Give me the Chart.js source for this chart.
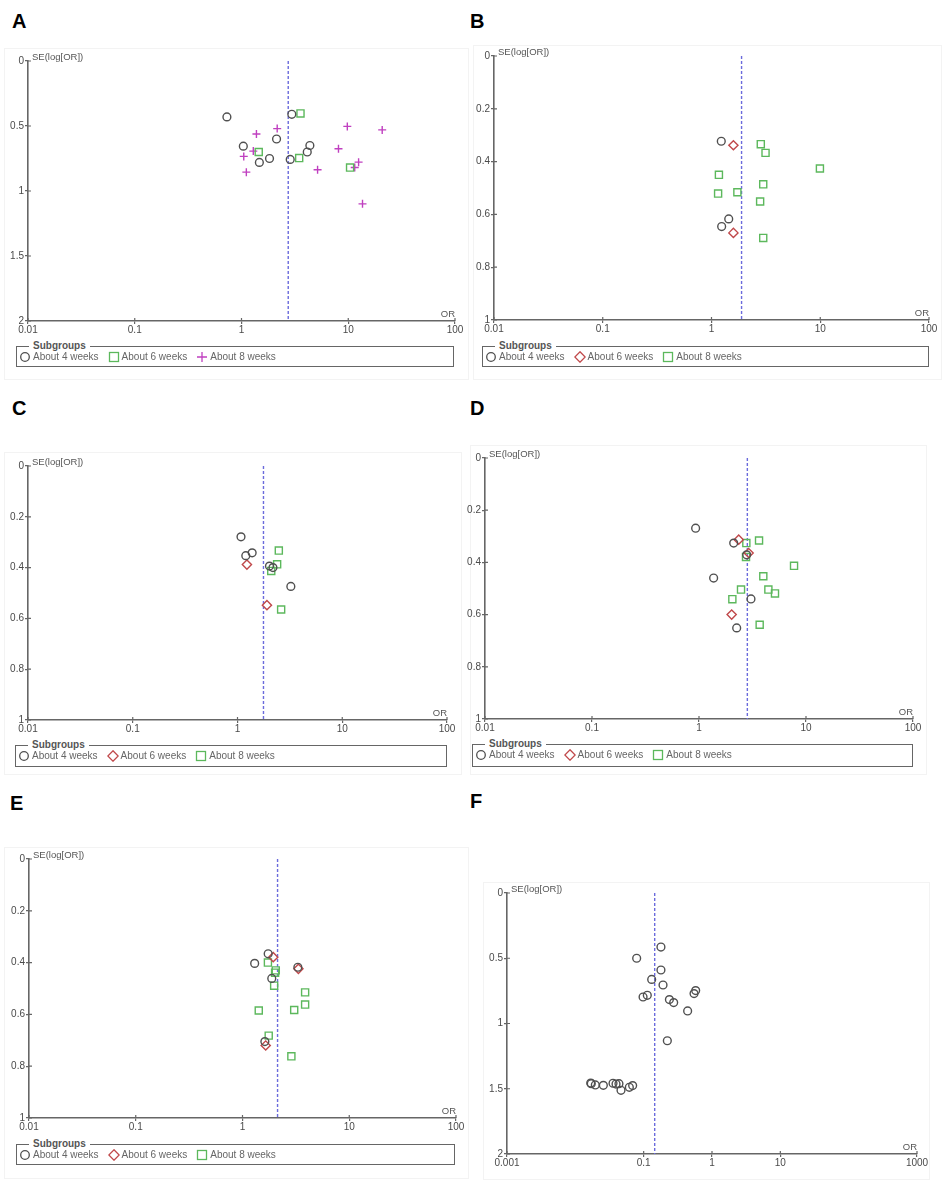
<!DOCTYPE html>
<html>
<head>
<meta charset="utf-8">
<script src="https://cdn.jsdelivr.net/npm/chart.js@4"></script>
<style>
  body { margin: 0; width: 945px; height: 1182px; position: relative; background: #fff; overflow: hidden;
         font-family: "Liberation Sans", Arial, sans-serif; }
  .tag { position: absolute; font: bold 20px "Liberation Sans", Arial, sans-serif; color: #000; }
  .box { position: absolute; border: 1px solid #f3f3f3; }
  .cv { position: absolute; }
  .lg { position: absolute; border: 1px solid #666; box-sizing: border-box; }
  .lg .ttl { position: absolute; top: -7px; left: 12px; background: #fff; padding: 0 4px;
             font: bold 10px "Liberation Sans", Arial, sans-serif; color: #555; line-height: 12px; }
  .lg .items { position: absolute; left: 2px; top: 4px; display: flex; gap: 9px;
               font: 10px "Liberation Sans", Arial, sans-serif; color: #666; line-height: 12px; }
  .lg .it { display: flex; align-items: center; gap: 2px; }
</style>
</head>
<body>
<script>
// tick labels
const xTicks = [0.01, 0.1, 1, 10, 100];
const xTicksF = [0.001, 0.1, 1, 10, 1000];
const yTicks2 = [0, 0.5, 1, 1.5, 2];
const yTicks1 = [0, 0.2, 0.4, 0.6, 0.8, 1];
const groups = ['About 4 weeks', 'About 6 weeks', 'About 8 weeks'];

// A
const A_or4 = [0.73, 2.96, 2.13, 1.04, 4.37, 4.13, 1.83, 1.47, 2.86];
const A_se4 = [0.43, 0.41, 0.60, 0.655, 0.65, 0.70, 0.75, 0.78, 0.757];
const A_or6 = [3.57, 1.45, 3.47, 10.4];
const A_se6 = [0.403, 0.70, 0.747, 0.82];
const A_or8 = [1.38, 2.16, 9.8, 20.8, 1.29, 1.05, 8.1, 1.11, 5.16, 12.5, 11.5, 13.6];
const A_se8 = [0.562, 0.52, 0.503, 0.53, 0.693, 0.734, 0.675, 0.855, 0.837, 0.778, 0.819, 1.099];
const A_pooled = 2.74;

// B
const B_or4 = [1.23, 1.44, 1.24];
const B_se4 = [0.323, 0.617, 0.646];
const B_or6 = [1.59, 1.59];
const B_se6 = [0.338, 0.67];
const B_or8 = [2.84, 3.14, 9.93, 1.17, 2.99, 1.15, 1.73, 2.80, 2.99];
const B_se8 = [0.334, 0.367, 0.426, 0.45, 0.486, 0.521, 0.516, 0.551, 0.689];
const B_pooled = 1.89;

// C
const C_or4 = [1.08, 1.38, 1.20, 2.02, 2.18, 3.23];
const C_se4 = [0.279, 0.342, 0.353, 0.394, 0.40, 0.474];
const C_or6 = [1.23, 1.91];
const C_se6 = [0.388, 0.548];
const C_or8 = [2.48, 2.39, 2.10, 2.61];
const C_se8 = [0.333, 0.387, 0.413, 0.565];
const C_pooled = 1.77;

// D
const D_or4 = [0.93, 2.11, 1.37, 3.06, 2.25, 2.79];
const D_se4 = [0.269, 0.326, 0.46, 0.54, 0.651, 0.371];
const D_or6 = [2.35, 2.91, 2.02];
const D_se6 = [0.313, 0.364, 0.60];
const D_or8 = [2.77, 3.64, 2.75, 7.73, 3.99, 2.47, 4.45, 5.13, 2.05, 3.69];
const D_se8 = [0.326, 0.316, 0.379, 0.413, 0.453, 0.504, 0.504, 0.519, 0.541, 0.639];
const D_pooled = 2.83;

// E
const E_or4 = [1.74, 1.30, 3.30, 1.88, 1.62];
const E_se4 = [0.366, 0.403, 0.418, 0.461, 0.705];
const E_or6 = [1.94, 3.34, 1.65];
const E_se6 = [0.379, 0.424, 0.72];
const E_or8 = [1.73, 2.05, 2.02, 1.98, 3.86, 3.86, 1.42, 3.05, 1.76, 2.87];
const E_se8 = [0.40, 0.43, 0.439, 0.489, 0.515, 0.562, 0.585, 0.583, 0.682, 0.762];
const E_pooled = 2.13;

// F (single group)
const F_or = [0.179, 0.079, 0.179, 0.131, 0.192, 0.098, 0.113, 0.577, 0.546, 0.238, 0.275, 0.44, 0.222,
              0.0168, 0.0171, 0.0196, 0.0257, 0.0356, 0.0394, 0.0435, 0.0466, 0.0617, 0.069];
const F_se = [0.414, 0.50, 0.59, 0.662, 0.705, 0.797, 0.784, 0.748, 0.771, 0.817, 0.84, 0.904, 1.132,
              1.456, 1.461, 1.471, 1.474, 1.458, 1.464, 1.461, 1.512, 1.489, 1.476];
const F_pooled = 0.145;

// marker styles
const sty = {
  circle:  { pointStyle: 'circle',  radius: 3.9, color: '#505050' },
  square:  { pointStyle: 'rect',    radius: 5,   color: '#5cb85c' },
  diamond: { pointStyle: 'rectRot', radius: 4.6, color: '#c0484a' },
  plus:    { pointStyle: 'cross',   radius: 4,   color: '#c040c0' }
};

const zip = (or, se) => or.map((v, i) => ({ x: v, y: se[i] }));

const panels = [
  { tag: 'A', tagPos: [12, 10], box: [4, 48, 467, 378], plot: [28, 61, 455, 321],
    xMin: 0.01, xMax: 100, xt: xTicks, yMax: 2, yt: yTicks2, pooled: A_pooled,
    series: [['circle', A_or4, A_se4], ['square', A_or6, A_se6], ['plus', A_or8, A_se8]],
    legend: [16, 346, 454, 367] },
  { tag: 'B', tagPos: [470, 10], box: [473, 45, 940, 378], plot: [494, 56, 929, 320],
    xMin: 0.01, xMax: 100, xt: xTicks, yMax: 1, yt: yTicks1, pooled: B_pooled,
    series: [['circle', B_or4, B_se4], ['diamond', B_or6, B_se6], ['square', B_or8, B_se8]],
    legend: [482, 346, 929, 367] },
  { tag: 'C', tagPos: [12, 397], box: [4, 452, 460, 773], plot: [28, 466, 447, 720],
    xMin: 0.01, xMax: 100, xt: xTicks, yMax: 1, yt: yTicks1, pooled: C_pooled,
    series: [['circle', C_or4, C_se4], ['diamond', C_or6, C_se6], ['square', C_or8, C_se8]],
    legend: [15, 745, 447, 767] },
  { tag: 'D', tagPos: [470, 397], box: [470, 445, 925, 773], plot: [485, 458, 913, 719],
    xMin: 0.01, xMax: 100, xt: xTicks, yMax: 1, yt: yTicks1, pooled: D_pooled,
    series: [['circle', D_or4, D_se4], ['diamond', D_or6, D_se6], ['square', D_or8, D_se8]],
    legend: [472, 744, 913, 767] },
  { tag: 'E', tagPos: [10, 792], box: [4, 847, 467, 1177], plot: [29, 859, 456, 1118],
    xMin: 0.01, xMax: 100, xt: xTicks, yMax: 1, yt: yTicks1, pooled: E_pooled,
    series: [['circle', E_or4, E_se4], ['diamond', E_or6, E_se6], ['square', E_or8, E_se8]],
    legend: [16, 1144, 455, 1165] },
  { tag: 'F', tagPos: [470, 790], box: [483, 882, 928, 1178], plot: [507, 893, 917, 1154],
    xMin: 0.001, xMax: 1000, xt: xTicksF, yMax: 2, yt: yTicks2, pooled: F_pooled,
    series: [['circle', F_or, F_se]],
    legend: null }
];

// axis captions and the inner half of the crossing tick marks
const axisText = {
  id: 'axisText',
  afterDraw(chart) {
    const { ctx, chartArea: a, scales } = chart;
    ctx.save();
    ctx.strokeStyle = '#666';
    ctx.lineWidth = 1.2;
    ctx.beginPath();
    scales.x.ticks.forEach(t => {
      const px = scales.x.getPixelForValue(t.value);
      ctx.moveTo(px, a.bottom); ctx.lineTo(px, a.bottom - 3);
    });
    scales.y.ticks.forEach(t => {
      const py = scales.y.getPixelForValue(t.value);
      ctx.moveTo(a.left, py); ctx.lineTo(a.left + 3, py);
    });
    ctx.stroke();
    ctx.fillStyle = '#555';
    ctx.font = '9.5px "Liberation Sans", Arial, sans-serif';
    ctx.textBaseline = 'bottom';
    ctx.textAlign = 'left';
    ctx.fillText('SE(log[OR])', a.left + 4, a.top + 1);
    ctx.textAlign = 'right';
    ctx.fillText('OR', a.right, a.bottom - 2);
    ctx.restore();
  }
};

const PL = 32, PT = 18, PR = 16, PB = 22;

function symSvg(kind) {
  const c = sty[kind].color;
  let s = '';
  if (kind === 'circle') s = `<circle cx="6" cy="6" r="4.3" fill="none" stroke="${c}" stroke-width="1.3"/>`;
  if (kind === 'square') s = `<rect x="1.5" y="1.5" width="9" height="9" fill="none" stroke="${c}" stroke-width="1.3"/>`;
  if (kind === 'diamond') s = `<path d="M6 0.8 L11.2 6 L6 11.2 L0.8 6 Z" fill="none" stroke="${c}" stroke-width="1.3"/>`;
  if (kind === 'plus') s = `<path d="M6 1 V11 M1 6 H11" stroke="${c}" stroke-width="1.3"/>`;
  return `<svg width="12" height="12">${s}</svg>`;
}

panels.forEach(p => {
  const tag = document.createElement('div');
  tag.className = 'tag';
  tag.style.left = p.tagPos[0] + 'px';
  tag.style.top = p.tagPos[1] + 'px';
  tag.textContent = p.tag;
  document.body.appendChild(tag);

  const box = document.createElement('div');
  box.className = 'box';
  Object.assign(box.style, { left: p.box[0] + 'px', top: p.box[1] + 'px',
    width: (p.box[2] - p.box[0]) + 'px', height: (p.box[3] - p.box[1]) + 'px' });
  document.body.appendChild(box);

  const [x0, y0, x1, y1] = p.plot;
  const cv = document.createElement('canvas');
  cv.className = 'cv';
  const w = x1 - x0 + PL + PR, h = y1 - y0 + PT + PB;
  cv.width = w; cv.height = h;
  cv.style.left = (x0 - PL) + 'px';
  cv.style.top = (y0 - PT) + 'px';
  cv.style.width = w + 'px'; cv.style.height = h + 'px';
  document.body.appendChild(cv);

  const datasets = p.series.map(([kind, or, se], i) => ({
    type: 'scatter',
    label: p.tag === 'F' ? 'Studies' : groups[i],
    data: zip(or, se),
    pointStyle: sty[kind].pointStyle,
    pointRadius: sty[kind].radius,
    pointBorderWidth: 1.4,
    borderColor: sty[kind].color,
    backgroundColor: 'rgba(0,0,0,0)',
    order: 1
  }));
  datasets.push({
    type: 'line',
    label: 'Pooled OR',
    data: [{ x: p.pooled, y: 0 }, { x: p.pooled, y: p.yMax }],
    borderColor: '#6b6bdc',
    borderWidth: 1.4,
    borderDash: [3, 2],
    pointRadius: 0,
    order: 2
  });

  const tickFont = { family: '"Liberation Sans", Arial, sans-serif', size: 10 };
  new Chart(cv.getContext('2d'), {
    type: 'scatter',
    data: { datasets },
    options: {
      responsive: false,
      animation: false,
      layout: { padding: { left: 0, top: PT, right: PR, bottom: 0 } },
      plugins: { legend: { display: false }, tooltip: { enabled: false } },
      scales: {
        x: {
          type: 'logarithmic',
          min: p.xMin, max: p.xMax,
          afterBuildTicks: s => { s.ticks = p.xt.map(v => ({ value: v })); },
          afterFit: s => { s.height = PB; },
          ticks: { color: '#4a4a4a', font: tickFont, padding: 0, maxRotation: 0, autoSkip: false,
                   callback: v => String(v) },
          grid: { drawOnChartArea: false, drawTicks: true, tickLength: 3, color: '#666', lineWidth: 1.2 },
          border: { color: '#666', width: 1.6 }
        },
        y: {
          type: 'linear',
          reverse: true,
          min: 0, max: p.yMax,
          afterBuildTicks: s => { s.ticks = p.yt.map(v => ({ value: v })); },
          afterFit: s => { s.width = PL; },
          ticks: { color: '#4a4a4a', font: tickFont, padding: 1, callback: v => String(v) },
          grid: { drawOnChartArea: false, drawTicks: true, tickLength: 3, color: '#666', lineWidth: 1.2 },
          border: { color: '#666', width: 1.6 }
        }
      }
    },
    plugins: [axisText]
  });

  if (p.legend) {
    const [lx0, ly0, lx1, ly1] = p.legend;
    const lg = document.createElement('div');
    lg.className = 'lg';
    Object.assign(lg.style, { left: lx0 + 'px', top: ly0 + 'px',
      width: (lx1 - lx0) + 'px', height: (ly1 - ly0) + 'px' });
    lg.innerHTML = '<span class="ttl">Subgroups</span><div class="items">' +
      p.series.map(([kind], i) => `<span class="it">${symSvg(kind)}${groups[i]}</span>`).join('') +
      '</div>';
    document.body.appendChild(lg);
  }
});
</script>
</body>
</html>
